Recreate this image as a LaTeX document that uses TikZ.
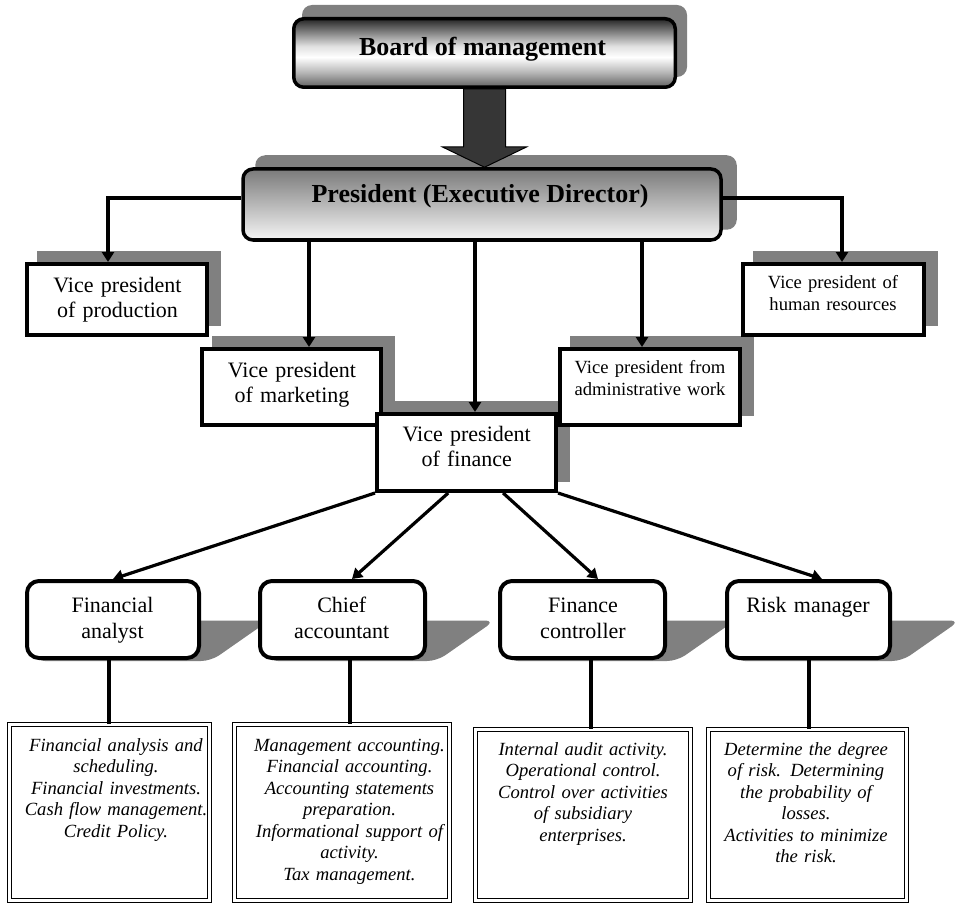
\documentclass[tikz,border=0pt]{standalone}
\usepackage{fontspec}
\setmainfont{Liberation Serif}
\usetikzlibrary{arrows.meta,calc}
\pgfdeclarelayer{bg}
\pgfsetlayers{bg,main}
\definecolor{shadowgray}{HTML}{808080}
\definecolor{arrowfill}{HTML}{363636}
% metallic band for the top box: dark edges, bright middle
\pgfdeclareverticalshading{boardshade}{100bp}{color(0bp)=(black!62); color(25bp)=(black!62); color(36bp)=(black!28); color(47bp)=(white); color(55bp)=(black!12); color(66bp)=(black!52); color(75bp)=(black!85); color(100bp)=(black!85)}
% grey at the top fading to white
\pgfdeclareverticalshading{presshade}{100bp}{color(0bp)=(white); color(25bp)=(black!4); color(75bp)=(black!52); color(100bp)=(black!52)}
\begin{document}
\begin{tikzpicture}[x=1pt,y=-1pt,
  topbox/.style={draw, line width=3.5pt, rounded corners=10pt, inner sep=0pt},
  vpbox/.style={draw, line width=4pt, fill=white, inner sep=0pt},
  rolebox/.style={draw, line width=4pt, fill=white, rounded corners=12pt, inner sep=0pt},
  dutybox/.style={draw, line width=1.4pt, double=white, double distance=2.2pt, inner sep=0pt},
  conn/.style={line width=3.2pt, -{Triangle[width=12pt,length=10pt]}},
  link/.style={line width=3.2pt},
  titletext/.style={font=\fontsize{26}{30}\selectfont\bfseries, anchor=base, inner sep=0pt},
  vptext/.style={font=\fontsize{22}{25.5}\selectfont, align=center, text width=200pt, anchor=base, inner sep=0pt},
  vpsmall/.style={font=\fontsize{18.6}{22}\selectfont, align=center, text width=200pt, anchor=base, inner sep=0pt},
  roletext/.style={font=\fontsize{22}{26.5}\selectfont, align=center, text width=200pt, anchor=base, inner sep=0pt},
  dutytext/.style={font=\fontsize{18.6}{21.5}\selectfont\itshape, align=center, text width=230pt, anchor=base, inner sep=0pt},
]
\useasboundingbox (0,0) rectangle (961,904);

% ---- top of the hierarchy ----
\node[topbox, shading=boardshade, minimum width=381.5pt, minimum height=68.5pt] (board) at (484.5,53) {};
\node[titletext] (boardtext) at (482.5,56) {Board of management};
\node[topbox, shading=presshade, minimum width=478pt, minimum height=71pt] (pres) at (482,204.5) {};
\node[titletext] (prestext) at (480,203) {President (Executive Director)};

% block arrow between the two top boxes
\coordinate (atop) at (board.south);
\coordinate (atip) at (pres.north -| atop);
\draw[line width=1pt, fill=arrowfill]
  ($(atop)+(-21,0)$) -- ($(atop)+(-21,58)$) -- ($(atop)+(-42,58)$) -- (atip)
  -- ($(atop)+(42,58)$) -- ($(atop)+(21,58)$) -- ($(atop)+(21,0)$) -- cycle;

% ---- vice presidents ----
\node[vpbox, minimum width=180pt, minimum height=71pt] (prod) at (117,299.5) {};
\node[vpbox, minimum width=179pt, minimum height=76pt] (mkt) at (291.5,387) {};
\node[vpbox, minimum width=179pt, minimum height=77pt] (fin) at (466.5,452.5) {};
\node[vpbox, minimum width=180pt, minimum height=76pt] (admin) at (650,387) {};
\node[vpbox, minimum width=181pt, minimum height=71pt] (hr) at (833.5,299.5) {};

\node[vptext] (prodtext) at (117.5,292) {Vice president\\of production};
\node[vptext] (mkttext) at (292,377) {Vice president\\of marketing};
\node[vptext] (fintext) at (466.7,441) {Vice president\\of finance};
\node[vpsmall] (admintext) at (650,373) {Vice president from\\administrative work};
\node[vpsmall] (hrtext) at (833,288) {Vice president of\\human resources};

% ---- finance staff ----
\node[rolebox, minimum width=172pt, minimum height=77pt] (fa) at (113,619.5) {};
\node[rolebox, minimum width=165pt, minimum height=77pt] (ca) at (342.5,619.5) {};
\node[rolebox, minimum width=165pt, minimum height=77pt] (fc) at (582.5,619.5) {};
\node[rolebox, minimum width=163pt, minimum height=77pt] (rm) at (808.5,619.5) {};

\node[roletext] (fatext) at (112.5,612) {Financial\\analyst};
\node[roletext] (catext) at (341.7,612) {Chief\\accountant};
\node[roletext] (fctext) at (583,612) {Finance\\controller};
\node[roletext] (rmtext) at (808,612) {Risk manager};

% ---- duties ----
\node[dutybox, minimum width=200pt, minimum height=176pt] (d1) at (109.5,812.5) {};
\node[dutybox, minimum width=215pt, minimum height=176pt] (d2) at (342,812.5) {};
\node[dutybox, minimum width=215pt, minimum height=171pt] (d3) at (583,815) {};
\node[dutybox, minimum width=198pt, minimum height=171pt] (d4) at (807.5,815) {};

\node[dutytext] (d1text) at (116,751) {Financial analysis and\\scheduling.\\Financial investments.\\Cash flow management.\\Credit Policy.};
\node[dutytext] (d2text) at (349.5,751) {Management accounting.\\Financial accounting.\\Accounting statements\\preparation.\\Informational support of\\activity.\\Tax management.};
\node[dutytext] (d3text) at (583,755) {Internal audit activity.\\Operational control.\\Control over activities\\of subsidiary\\enterprises.};
\node[dutytext] (d4text) at (806,755) {Determine the degree\\of risk. Determining\\the probability of\\losses.\\Activities to minimize\\the risk.};

% ---- shadows ----
\begin{pgfonlayer}{bg}
  \fill[shadowgray, rounded corners=10pt] ($(board.south west)+(10,-12)$) rectangle ($(board.north east)+(10,-12)$);
  \fill[shadowgray, rounded corners=10pt] ($(pres.south west)+(14,-12)$) rectangle ($(pres.north east)+(14,-12)$);
  \foreach \b in {prod,mkt,fin,admin,hr}
    \fill[shadowgray] ($(\b.south west)+(12,-11)$) rectangle ($(\b.north east)+(12,-11)$);
  \foreach \b in {fa,ca,fc,rm}
    \fill[shadowgray, rounded corners=10pt]
      ($(\b.south west)+(10,1)$) -- ($(\b.south east)+(10,1)$)
      -- ($(\b.east)+(68,1)$) -- ($(\b.west)+(68,1)$) -- cycle;
\end{pgfonlayer}

% ---- connectors ----
\draw[conn] (pres.west |- 0,198) -| (108,0 |- prod.north);
\draw[conn] (pres.east |- 0,198) -| (842,0 |- hr.north);
\draw[conn] (309,0 |- pres.south) -- (309,0 |- mkt.north);
\draw[conn] (475,0 |- pres.south) -- (475,0 |- fin.north);
\draw[conn] (642,0 |- pres.south) -- (642,0 |- admin.north);

\draw[conn] (fin.south west) -- (113,0 |- fa.north);
\draw[conn] ($(fin.south west)!0.4!(fin.south east)$) -- (352,0 |- ca.north);
\draw[conn] ($(fin.south west)!0.7!(fin.south east)$) -- (598,0 |- fc.north);
\draw[conn] (fin.south east) -- (822,0 |- rm.north);

\draw[link] (109,0 |- fa.south) -- (109,0 |- d1.north);
\draw[link] (350,0 |- ca.south) -- (350,0 |- d2.north);
\draw[link] (591,0 |- fc.south) -- (591,0 |- d3.north);
\draw[link] (809,0 |- rm.south) -- (809,0 |- d4.north);
\end{tikzpicture}
\end{document}
